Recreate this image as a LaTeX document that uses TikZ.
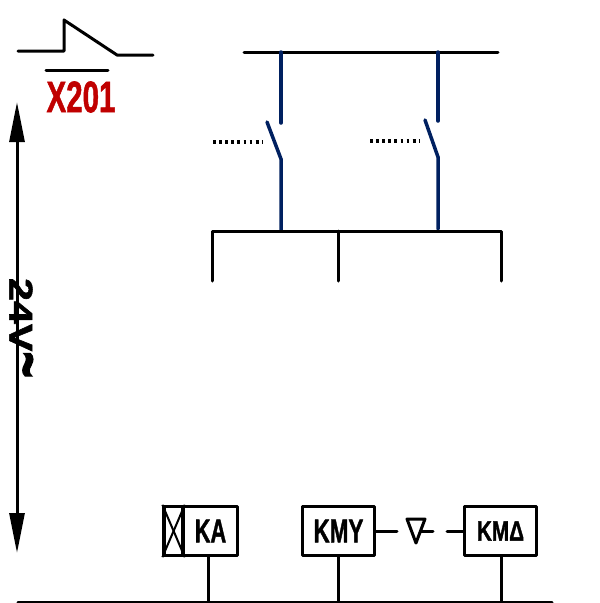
\documentclass[tikz,border=0pt]{standalone}
\usepackage{fontspec}
\setmainfont{Liberation Sans}[BoldFeatures={FakeBold=1.5}]
\usetikzlibrary{arrows.meta}
\definecolor{navyline}{HTML}{002060}
\definecolor{tagred}{HTML}{C00000}
\newcommand{\narrowtext}[3]{\fontsize{#1}{#1}\selectfont\bfseries\scalebox{#2}[1]{#3}}
\tikzset{
	wire/.style={line width=3pt, line cap=round, line join=round},
	feed/.style={line width=3.5pt, line cap=round, navyline},
	linkage/.style={line width=3.6pt, dash pattern=on 2.8pt off 3.3pt},
	coilbox/.style={draw, line width=3.4pt, minimum height=49pt, inner sep=0pt, line join=round},
	bigtip/.style={line width=3pt, -{Triangle[length=40pt,width=15pt]}},
}
\begin{document}
\begin{tikzpicture}[x=1pt,y=-1pt]
	\useasboundingbox (0,0) rectangle (600,603);

	% contact symbol
	\draw[wire] (18,51) -- (64,51) -- (64,20) -- (117,55) -- (153,55);
	\draw[wire] (46,70) -- (108,70);
	\node[text=tagred, inner sep=0pt] (tag) at (81,97) {\narrowtext{44}{0.67}{X201}};

	% voltage
	\node[rotate=-90, inner sep=3pt] (volt) at (21,328) {\narrowtext{33}{1.25}{24V\smash{\raisebox{-3.5pt}{\scalebox{1.1}[2]{\textasciitilde}}}}};
	\coordinate (volttop) at (17,102);
	\coordinate (voltbot) at (17,553);
	\draw[bigtip] (volttop |- volt.east) -- (volttop);
	\draw[bigtip] (voltbot |- volt.west) -- (voltbot);

	% supply bar
	\coordinate (supl) at (244,52);
	\coordinate (supr) at (498,52);
	\draw[wire] (supl) -- (supr);

	% left switch
	\coordinate (sa1) at (281,52);
	\coordinate (sa2) at (281,123);
	\coordinate (sa3) at (267,122);
	\coordinate (sa4) at (281,159);
	\coordinate (sa5) at (281,230);
	\draw[feed] (sa1) -- (sa2);
	\draw[feed] (sa3) -- (sa4) -- (sa5);
	\draw[linkage] (213,142) -- (262,142);

	% right switch
	\coordinate (sb1) at (438,52);
	\coordinate (sb2) at (438,121);
	\coordinate (sb3) at (425,120);
	\coordinate (sb4) at (438,157);
	\coordinate (sb5) at (438,229);
	\draw[feed] (sb1) -- (sb2);
	\draw[feed] (sb3) -- (sb4) -- (sb5);
	\draw[linkage] (370,141) -- (420,141);

	% outgoing bar
	\draw[wire] (212,281) -- (212,231) -- (501,231) -- (501,281);
	\draw[wire] (338,231) -- (338,281);

	% coils
	\node[coilbox, minimum width=54pt] (ka) at (210.5,531) {\narrowtext{33}{0.66}{KA}};
	\node[coilbox, minimum width=19pt, anchor=east, xshift=3pt] (kax) at (ka.west) {};
	\draw[line width=2pt] (kax.north west) -- (kax.south east);
	\draw[line width=2pt] (kax.north east) -- (kax.south west);
	\node[coilbox, minimum width=72pt] (kmy) at (338.5,531) {\narrowtext{33}{0.68}{KMY}};
	\node[coilbox, minimum width=72pt] (kmd) at (500.5,531) {\narrowtext{28}{0.74}{KMΔ}};

	% interlock
	\coordinate (tria) at (407,519);
	\coordinate (trib) at (425,519);
	\coordinate (tric) at (416,543);
	\draw[wire] (tria) -- (trib) -- (tric) -- cycle;
	\coordinate (lka) at (397,531);
	\coordinate (lkb) at (421,531);
	\coordinate (lkc) at (433,531);
	\coordinate (lkd) at (447,531);
	\draw[wire] (kmy.east |- lka) -- (lka);
	\draw[wire] (lkb) -- (lkc);
	\draw[wire] (lkd) -- (kmd.west |- lkd);

	% return bar
	\coordinate (retl) at (18,602);
	\coordinate (retr) at (552,602);
	\draw[wire] (retl) -- (retr);
	\draw[wire] (208,556) -- (208,602);
	\draw[wire] (338,556) -- (338,602);
	\draw[wire] (501,556) -- (501,602);
\end{tikzpicture}
\end{document}
